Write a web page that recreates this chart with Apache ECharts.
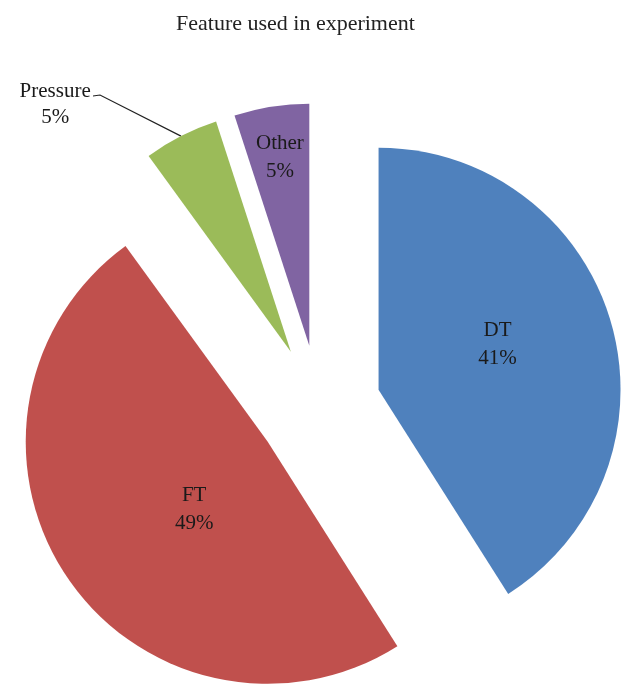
<!DOCTYPE html>
<html>
<head>
<meta charset="utf-8">
<script src="https://cdn.jsdelivr.net/npm/echarts@6/dist/echarts.min.js"></script>
<style>
html,body{margin:0;padding:0;background:#fff;}
#chart{width:629px;height:685px;}
</style>
</head>
<body>
<div id="chart"></div>
<script>
var titleText = 'Feature used in experiment';
var categories = ['DT', 'FT', 'Pressure', 'Other'];
var values = [41, 49, 5, 5];
var colors = ['#4F81BD', '#C0504D', '#9BBB59', '#8064A2'];
var insideLabel = [true, true, false, true];
// label nudges (pixels) relative to ECharts' default label position
var labelShift = [[0, -11], [29, -2], [-44, -18], [-10, -66]];

var EXPLODE = 62;
var total = values.reduce(function (a, b) { return a + b; }, 0);

var chart = echarts.init(document.getElementById('chart'), null, {renderer: 'canvas'});

var data = categories.map(function (c, i) {
  var item = {
    name: c,
    value: values[i],
    selected: true,
    itemStyle: {color: colors[i]}
  };
  if (!insideLabel[i]) {
    item.label = {
      position: 'outside',
      show: true,
      formatter: '{t|{b}}\n{t|{d}%}',
      rich: {
        t: {
          width: 80,
          align: 'center',
          fontFamily: 'Liberation Serif',
          fontSize: 21,
          lineHeight: 26,
          color: '#1a1a1a'
        }
      }
    };
    item.labelLine = {show: true, lineStyle: {color: '#222', width: 1.2}};
  }
  return item;
});

function sliceOffset(idx) {
  var before = 0;
  for (var k = 0; k < idx; k++) before += values[k];
  var mid = (before + values[idx] / 2) / total * Math.PI * 2;
  return [Math.sin(mid) * EXPLODE, -Math.cos(mid) * EXPLODE];
}

var option = {
  animation: false,
  backgroundColor: '#ffffff',
  title: {
    text: titleText,
    left: 171,
    top: 8,
    textStyle: {
      fontFamily: 'Liberation Serif',
      fontWeight: 'normal',
      fontSize: 22,
      color: '#222'
    }
  },
  series: [{
    type: 'pie',
    center: [319, 407],
    radius: [0, 242],
    startAngle: 90,
    clockwise: true,
    selectedMode: 'multiple',
    selectedOffset: EXPLODE,
    avoidLabelOverlap: false,
    percentPrecision: 0,
    emphasis: {disabled: true},
    select: {itemStyle: {borderWidth: 0}},
    itemStyle: {borderWidth: 0},
    label: {
      show: true,
      position: 'inside',
      formatter: '{b}\n{d}%',
      fontFamily: 'Liberation Serif',
      fontSize: 21,
      lineHeight: 28,
      color: '#1a1a1a'
    },
    labelLine: {show: false},
    labelLayout: function (params) {
      var i = params.dataIndex;
      var res = {dx: labelShift[i][0], dy: labelShift[i][1]};
      if (!insideLabel[i] && params.labelLinePoints) {
        var off = sliceOffset(i);
        var p0 = params.labelLinePoints[0];
        res.labelLinePoints = [
          p0,
          [100 - off[0], 95 - off[1]],
          [93 - off[0], 96 - off[1]]
        ];
      }
      return res;
    },
    data: data
  }]
};
chart.setOption(option);
</script>
</body>
</html>
